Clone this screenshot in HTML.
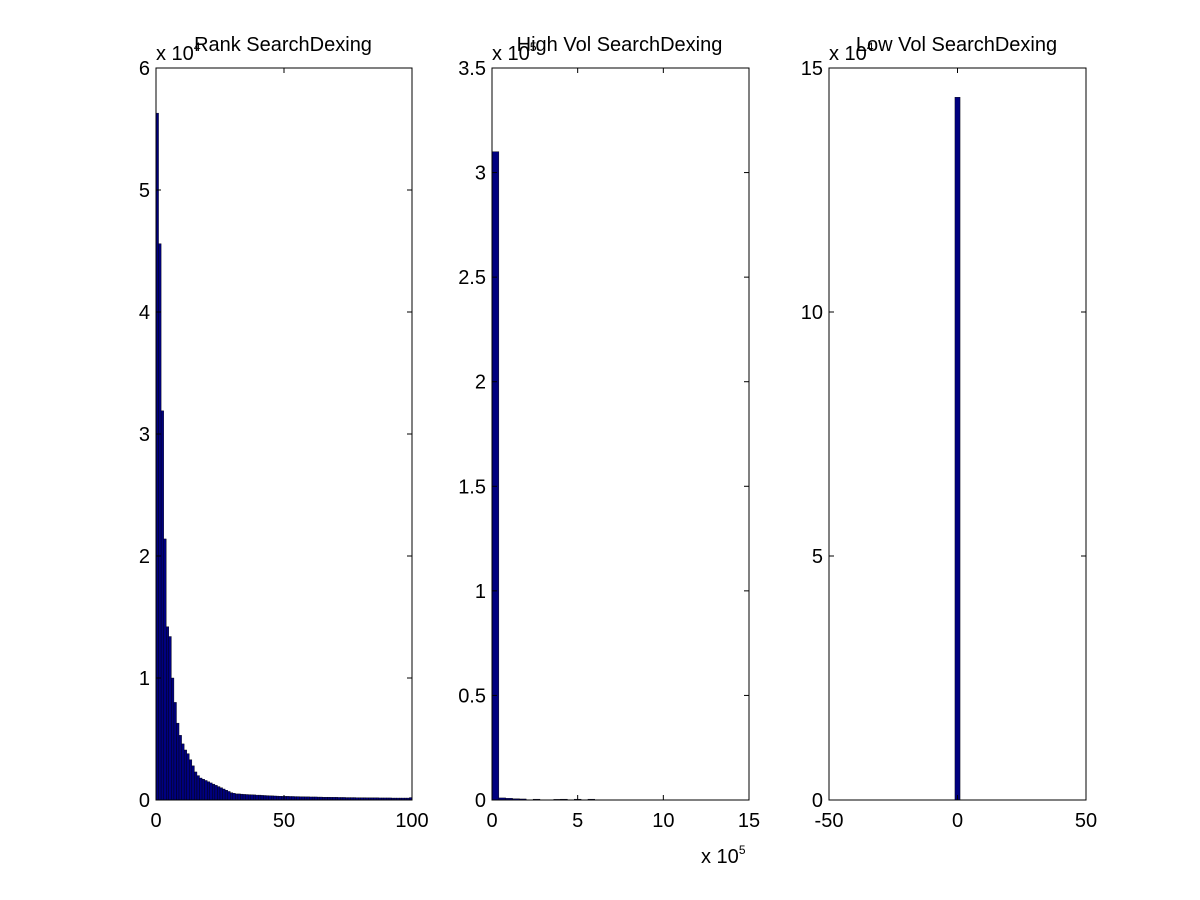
<!DOCTYPE html>
<html><head><meta charset="utf-8"><style>
body{margin:0;background:#fff;}
svg{display:block;font-family:"Liberation Sans",Arial,sans-serif;}
</style></head><body>
<svg id="fig" width="1200" height="900" viewBox="0 0 1200 900"></svg>
<script>
// Panel 1: Rank SearchDexing (100 bins over 0..100, values x 10^4)
const rankCounts = [5.63,4.56,3.19,2.14,1.42,1.34,1.0,0.8,0.63,0.53,0.46,0.41,0.38,0.33,0.28,0.23,0.2,0.18,0.17,0.16,
0.15,0.14,0.13,0.12,0.11,0.1,0.09,0.08,0.07,0.06,0.055,0.05,0.05,0.048,0.046,0.045,0.044,0.043,0.042,0.04,
0.04,0.038,0.037,0.036,0.035,0.034,0.033,0.032,0.031,0.03,0.03,0.03,0.029,0.029,0.028,0.028,0.027,0.027,0.026,0.026,
0.025,0.025,0.025,0.024,0.024,0.023,0.023,0.023,0.022,0.022,0.022,0.021,0.021,0.021,0.02,0.02,0.02,0.02,0.019,0.019,
0.019,0.019,0.018,0.018,0.018,0.018,0.018,0.017,0.017,0.017,0.017,0.017,0.016,0.016,0.016,0.016,0.016,0.016,0.016,0.02];
const rankYTicks = [0,1,2,3,4,5,6];
const rankXTicks = [0,50,100];
// Panel 2: High Vol SearchDexing (x 10^5 on x, values x 10^5)
const highBinLefts = [0,0.4,0.8,1.2,1.6,2.4,3.6,4.0,4.8,5.6];
const highCounts = [3.1,0.01,0.008,0.006,0.005,0.004,0.003,0.004,0.004,0.004];
const highBinWidth = 0.4;
const highYTicks = [0,0.5,1,1.5,2,2.5,3,3.5];
const highXTicks = [0,5,10,15];
// Panel 3: Low Vol SearchDexing (values x 10^4)
const lowBinLefts = [-0.5];
const lowCounts = [14.4];
const lowBinWidth = 1;
const lowYTicks = [0,5,10,15];
const lowXTicks = [-50,0,50];

const svg = document.getElementById('fig');
const NS = 'http://www.w3.org/2000/svg';
function mk(tag, attrs, parent){const e=document.createElementNS(NS,tag);for(const k in attrs)e.setAttribute(k,attrs[k]);(parent||svg).appendChild(e);return e;}

function panel(cfg){
  const g = mk('g',{});
  
  
  const {x0,x1,y0,y1,xmin,xmax,ymin,ymax} = cfg;
  const sx = v => x0 + (v-xmin)/(xmax-xmin)*(x1-x0);
  const sy = v => y1 - (v-ymin)/(ymax-ymin)*(y1-y0);
  const bg = mk('rect',{x:x0,y:y0,width:x1-x0,height:y1-y0,fill:'#fff'},g);
  
  
  cfg.bars.forEach((b,i)=>{
    const r = mk('rect',{x:sx(b.l),y:sy(b.v),width:Math.max(0.8,sx(b.l+b.w)-sx(b.l)),height:y1-sy(b.v),fill:'#00007f',stroke:'#000',"stroke-width":0.4},g);
    
    
  });
  const fr = mk('rect',{x:x0,y:y0,width:x1-x0,height:y1-y0,fill:'none',stroke:'#000','stroke-width':1},g);
  
  
  cfg.yticks.forEach(t=>{
    const y=sy(t);
    mk('line',{x1:x0,x2:x0+5,y1:y,y2:y,stroke:'#000'},g);
    mk('line',{x1:x1,x2:x1-5,y1:y,y2:y,stroke:'#000'},g);
    const tx = mk('text',{x:x0-6,y:y+7,'font-size':20,'text-anchor':'end'},g);
    tx.textContent = t;
    
    
  });
  cfg.xticks.forEach(t=>{
    const x=sx(t);
    mk('line',{x1:x,x2:x,y1:y1,y2:y1-5,stroke:'#000'},g);
    mk('line',{x1:x,x2:x,y1:y0,y2:y0+5,stroke:'#000'},g);
    const tx = mk('text',{x:x,y:y1+27,'font-size':20,'text-anchor':'middle'},g);
    tx.textContent = t;
    
    
  });
  const ex = mk('text',{x:x0,y:y0-8,'font-size':20},g);
  ex.innerHTML = 'x 10<tspan dy="-9" font-size="12">'+cfg.yexp+'</tspan>';
  
  
  const ti = mk('text',{x:(x0+x1)/2-1,y:y0-17,'font-size':20,'text-anchor':'middle'},g);
  ti.textContent = cfg.title;
  
  
  if(cfg.xexp){
    const xe = mk('text',{x:x1-48,y:y1+63,'font-size':20},g);
    xe.innerHTML = 'x 10<tspan dy="-9" font-size="12">'+cfg.xexp+'</tspan>';
    
    
  }
}

panel({name:'rank-histogram',title:'Rank SearchDexing',x0:156,x1:412,y0:68,y1:800,xmin:0,xmax:100,ymin:0,ymax:6,
  bars:rankCounts.map((v,i)=>({l:i,w:1,v})),yticks:rankYTicks,xticks:rankXTicks,yexp:'4'});
panel({name:'high-vol-histogram',title:'High Vol SearchDexing',x0:492,x1:749,y0:68,y1:800,xmin:0,xmax:15,ymin:0,ymax:3.5,
  bars:highCounts.map((v,i)=>({l:highBinLefts[i],w:highBinWidth,v})),yticks:highYTicks,xticks:highXTicks,yexp:'5',xexp:'5'});
panel({name:'low-vol-histogram',title:'Low Vol SearchDexing',x0:829,x1:1086,y0:68,y1:800,xmin:-50,xmax:50,ymin:0,ymax:15,
  bars:lowCounts.map((v,i)=>({l:lowBinLefts[i]-0.5,w:lowBinWidth*2,v})),yticks:lowYTicks,xticks:lowXTicks,yexp:'4'});
</script>
</body></html>
